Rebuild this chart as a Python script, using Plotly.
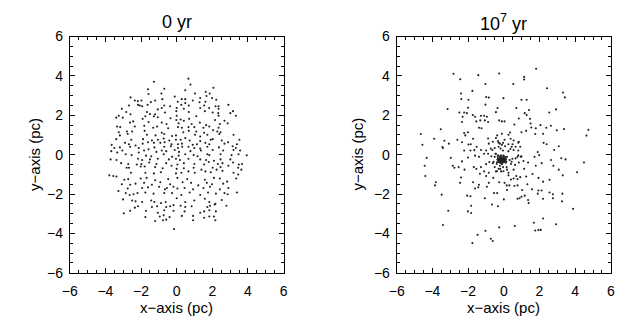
import plotly.graph_objects as go

# Star positions at t = 0 yr (pc)
pts_0yr = [
    (0.66, 3.86), (-1.28, 3.70), (0.77, 3.56), (-0.70, 3.35), (-1.61, 3.32), (2.06, 3.40),
    (0.48, 3.27), (1.63, 3.19), (-1.58, 3.08), (-0.86, 3.11), (1.03, 3.11), (1.85, 3.11),
    (-2.59, 2.91), (-0.11, 2.95), (1.32, 2.88), (1.67, 2.98), (1.98, 2.88), (-2.35, 2.75),
    (-2.18, 2.72), (-1.98, 2.75), (-0.81, 2.82), (-1.21, 2.75), (0.28, 2.82), (0.48, 2.82),
    (0.90, 2.75), (2.22, 2.79), (-1.45, 2.67), (0.06, 2.69), (0.48, 2.62), (1.28, 2.66),
    (1.61, 2.69), (-2.68, 2.50), (-2.17, 2.53), (-2.07, 2.50), (-1.94, 2.46), (-1.63, 2.53),
    (-0.70, 2.50), (-0.37, 2.46), (0.26, 2.53), (0.68, 2.50), (1.54, 2.50), (2.18, 2.46),
    (2.35, 2.46), (2.90, 2.53), (-3.08, 2.33), (-1.06, 2.30), (-0.84, 2.37), (0.00, 2.37),
    (0.40, 2.33), (1.32, 2.37), (1.82, 2.37), (2.35, 2.33), (-2.83, 2.17), (-1.67, 2.17),
    (-1.50, 2.06), (-1.21, 2.05), (-0.66, 2.14), (-0.02, 2.21), (0.68, 2.17), (1.58, 2.21),
    (2.02, 2.14), (2.33, 2.11), (3.01, 2.11), (3.16, 2.21), (-3.25, 1.98), (-2.59, 2.05),
    (-1.76, 1.95), (-1.28, 1.95), (0.00, 1.98), (1.10, 1.95), (2.35, 1.98), (3.32, 1.98),
    (-3.39, 1.88), (-3.03, 1.88), (-1.91, 1.82), (-1.06, 1.90), (-0.35, 1.85), (-0.02, 1.76),
    (0.22, 1.79), (0.40, 1.72), (0.70, 1.82), (2.15, 1.76), (2.68, 1.72), (-2.62, 1.63),
    (-2.44, 1.69), (-1.58, 1.66), (-0.84, 1.63), (-0.57, 1.56), (0.11, 1.59), (0.84, 1.56),
    (1.30, 1.63), (1.65, 1.50), (2.42, 1.56), (2.86, 1.59), (-3.34, 1.43), (-3.17, 1.40),
    (-2.35, 1.43), (-1.82, 1.47), (-1.32, 1.37), (-1.10, 1.43), (-0.48, 1.34), (0.07, 1.40),
    (0.29, 1.37), (0.66, 1.40), (0.99, 1.40), (1.50, 1.37), (1.83, 1.43), (2.35, 1.37),
    (-3.25, 1.14), (-2.79, 1.18), (-2.50, 1.18), (-1.80, 1.21), (-0.84, 1.11), (0.37, 1.14),
    (0.68, 1.21), (1.10, 1.18), (1.54, 1.11), (2.04, 1.24), (2.28, 1.18), (2.46, 1.14),
    (-3.19, 0.98), (-2.75, 1.05), (-1.67, 1.01), (-1.19, 0.98), (-0.70, 1.05), (-0.26, 0.95),
    (-0.04, 0.98), (1.03, 1.01), (1.32, 0.92), (1.72, 1.01), (2.39, 1.05), (3.19, 1.01),
    (-3.39, 0.79), (-2.55, 0.76), (-1.89, 0.79), (-1.39, 0.72), (-1.06, 0.76), (-0.73, 0.82),
    (-0.42, 0.72), (-0.04, 0.76), (0.22, 0.76), (0.48, 0.85), (0.73, 0.72), (1.32, 0.69),
    (1.91, 0.76), (2.02, 0.79), (2.53, 0.72), (3.52, 0.76), (-3.65, 0.50), (-2.90, 0.60),
    (-2.68, 0.53), (-2.31, 0.47), (-1.91, 0.56), (-1.61, 0.63), (-1.28, 0.60), (-0.92, 0.60),
    (-0.68, 0.63), (-0.29, 0.53), (0.07, 0.53), (0.29, 0.56), (0.90, 0.50), (1.14, 0.53),
    (1.61, 0.60), (1.83, 0.53), (2.68, 0.56), (2.88, 0.63), (3.38, 0.53), (-3.50, 0.34),
    (-3.19, 0.37), (-2.61, 0.40), (-2.13, 0.34), (-1.58, 0.27), (-1.25, 0.37), (-0.70, 0.40),
    (-0.33, 0.43), (0.07, 0.34), (0.31, 0.40), (0.66, 0.40), (0.99, 0.34), (1.32, 0.31),
    (1.72, 0.40), (2.37, 0.37), (3.14, 0.43), (3.32, 0.34), (-3.67, 0.18), (-3.34, 0.11),
    (-3.05, 0.21), (-2.13, 0.11), (-1.83, 0.21), (-1.14, 0.14), (-0.84, 0.21), (-0.59, 0.18),
    (-0.11, 0.24), (0.13, 0.14), (0.77, 0.18), (1.36, 0.21), (2.02, 0.24), (2.61, 0.21),
    (3.19, 0.24), (3.56, 0.21), (-2.86, 0.02), (-2.53, -0.02), (-1.72, -0.05), (-1.43, -0.08),
    (-0.73, 0.02), (-0.26, -0.11), (0.11, -0.05), (0.48, 0.02), (0.95, -0.02), (1.17, -0.08),
    (1.72, 0.02), (1.83, -0.02), (2.46, 0.02), (3.08, -0.02), (3.47, 0.02), (-3.71, -0.24),
    (-3.38, -0.27), (-2.17, -0.21), (-1.94, -0.27), (-1.50, -0.24), (-1.06, -0.21), (-0.44, -0.24),
    (-0.04, -0.21), (0.18, -0.27), (0.66, -0.21), (1.32, -0.24), (1.65, -0.27), (2.09, -0.31),
    (2.46, -0.24), (3.01, -0.24), (3.93, -0.03), (-3.12, -0.43), (-2.72, -0.47), (-2.24, -0.50),
    (-1.98, -0.47), (-1.54, -0.40), (-1.14, -0.47), (-0.59, -0.43), (0.04, -0.50), (0.40, -0.43),
    (0.99, -0.47), (1.54, -0.50), (1.80, -0.37), (2.31, -0.47), (2.57, -0.43), (3.16, -0.40),
    (3.49, -0.50), (3.67, -0.47), (-2.81, -0.66), (-2.68, -0.66), (-2.02, -0.60), (-1.80, -0.60),
    (-1.21, -0.63), (-0.79, -0.69), (-0.29, -0.56), (0.00, -0.72), (0.40, -0.69), (0.95, -0.66),
    (1.39, -0.76), (2.02, -0.66), (2.24, -0.76), (2.46, -0.63), (2.90, -0.56), (3.45, -0.66),
    (3.63, -0.76), (-3.78, -1.05), (-3.56, -1.08), (-3.38, -1.11), (-2.57, -0.92), (-1.76, -0.92),
    (-1.28, -0.95), (-0.88, -0.89), (-0.04, -0.95), (0.26, -0.92), (0.66, -0.85), (1.01, -0.92),
    (1.61, -0.85), (1.91, -0.89), (2.57, -0.82), (3.19, -0.92), (3.45, -1.01), (-2.94, -1.27),
    (-2.72, -1.24), (-2.02, -1.21), (-1.69, -1.18), (-1.21, -1.30), (-0.48, -1.24), (0.04, -1.18),
    (0.59, -1.24), (1.58, -1.27), (2.09, -1.18), (2.42, -1.21), (3.34, -1.21), (-3.08, -1.50),
    (-2.61, -1.53), (-2.31, -1.47), (-1.83, -1.43), (-1.39, -1.53), (-0.92, -1.40), (-0.37, -1.50),
    (0.33, -1.40), (0.81, -1.43), (1.21, -1.56), (1.69, -1.43), (1.98, -1.50), (2.61, -1.47),
    (2.83, -1.37), (-3.27, -1.85), (-2.75, -1.72), (-1.94, -1.69), (-1.61, -1.66), (-0.99, -1.63),
    (-0.66, -1.76), (-0.55, -1.69), (-0.18, -1.63), (0.04, -1.72), (0.44, -1.69), (0.92, -1.76),
    (1.50, -1.69), (1.87, -1.63), (2.42, -1.76), (2.90, -1.69), (-2.86, -1.95), (-2.64, -2.05),
    (-2.42, -2.01), (-2.20, -1.95), (-1.76, -1.92), (-1.30, -1.98), (-0.70, -1.95), (-0.26, -1.95),
    (0.26, -2.05), (0.73, -1.92), (1.32, -2.05), (1.76, -1.92), (2.20, -1.98), (2.68, -1.95),
    (2.86, -2.01), (3.38, -1.92), (-3.01, -2.27), (-2.50, -2.33), (-2.31, -2.37), (-1.94, -2.40),
    (-1.43, -2.33), (-1.25, -2.40), (-0.88, -2.46), (-0.62, -2.40), (0.00, -2.21), (0.48, -2.40),
    (0.99, -2.33), (1.58, -2.24), (1.83, -2.40), (2.17, -2.50), (2.53, -2.30), (-2.35, -2.69),
    (-2.17, -2.62), (-1.39, -2.66), (-1.10, -2.62), (-0.59, -2.66), (-0.37, -2.62), (-0.18, -2.56),
    (0.22, -2.59), (0.48, -2.66), (0.84, -2.62), (1.72, -2.66), (1.87, -2.59), (2.13, -2.53),
    (2.79, -2.59), (-2.97, -2.98), (-2.61, -2.85), (-1.72, -2.85), (-1.06, -2.95), (-0.70, -2.82),
    (-0.18, -2.85), (0.44, -2.88), (1.32, -2.95), (1.54, -2.88), (1.83, -2.82), (2.20, -2.88),
    (-1.76, -3.17), (-0.95, -3.14), (-0.73, -3.08), (-0.40, -3.17), (0.29, -3.11), (0.92, -3.11),
    (1.54, -3.20), (1.83, -3.14), (2.09, -3.14), (-1.21, -3.37), (-0.77, -3.33), (-0.59, -3.30),
    (0.92, -3.33), (2.17, -3.33), (-0.15, -3.78),
]

# Star positions at t = 10^7 yr (pc)
pts_1e7yr = [
    (1.81, 4.36), (-2.82, 4.11), (-0.26, 4.12), (-1.43, 4.04), (1.14, 3.95), (1.14, 3.82),
    (-2.44, 3.83), (-1.03, 3.59), (0.53, 3.59), (-1.76, 3.24), (2.42, 3.37), (-2.40, 3.11),
    (3.32, 3.16), (-2.38, 2.83), (-1.98, 2.79), (-0.99, 2.93), (-0.84, 2.90), (-0.02, 2.87),
    (0.99, 2.79), (1.28, 2.79), (3.42, 2.91), (-1.03, 2.54), (-3.15, 2.32), (-2.00, 2.38),
    (-0.35, 2.37), (0.70, 2.37), (1.41, 2.27), (-2.49, 2.14), (-2.22, 2.14), (-2.31, 1.93),
    (-2.07, 2.11), (-1.74, 2.01), (-1.61, 1.93), (-1.28, 1.98), (-1.10, 1.98), (-0.95, 1.93),
    (-0.44, 2.16), (1.17, 2.11), (1.28, 2.01), (2.93, 2.30), (2.55, 2.14), (-0.26, 1.74),
    (-0.11, 1.69), (0.04, 1.69), (0.84, 1.84), (1.47, 1.82), (1.50, 1.58), (0.59, 1.53),
    (-3.53, 1.29), (-2.34, 1.66), (-1.54, 1.69), (-1.32, 1.74), (-1.06, 1.74), (-0.88, 1.66),
    (2.05, 1.50), (2.38, 1.37), (2.64, 1.47), (2.97, 1.24), (3.37, 1.30), (1.54, 1.38),
    (1.79, 1.34), (-2.22, 1.10), (-2.01, 1.14), (-1.39, 1.37), (-1.25, 1.34), (-4.65, 1.05),
    (-3.90, 0.81), (-3.33, 0.71), (-2.60, 0.76), (-2.16, 0.98), (-1.72, 0.81), (-0.88, 0.82),
    (-0.44, 0.85), (-0.11, 1.06), (0.26, 1.01), (0.35, 1.13), (0.38, 0.81), (0.99, 1.14),
    (1.25, 1.21), (1.76, 1.05), (2.20, 1.06), (-0.37, 0.98), (0.04, 0.76), (0.55, 0.72),
    (0.81, 0.61), (-4.56, 0.50), (-3.44, 0.39), (-3.08, 0.56), (-2.34, 0.63), (-1.98, 0.52),
    (-1.85, 0.53), (-1.52, 0.40), (-0.84, 0.56), (-0.62, 0.66), (-0.33, 0.69), (-0.22, 0.56),
    (-0.04, 0.60), (0.07, 0.43), (0.49, 0.53), (0.66, 0.40), (0.84, 0.66), (0.92, 0.40),
    (2.23, 0.60), (2.40, 0.53), (3.08, 0.43), (-3.41, 0.34), (-2.22, 0.21), (-1.87, 0.21),
    (-1.65, 0.23), (-1.28, 0.24), (-0.99, 0.21), (-0.73, 0.31), (-0.51, 0.34), (-0.29, 0.40),
    (-0.18, 0.31), (-0.05, 0.21), (0.26, 0.18), (0.37, 0.29), (0.55, 0.24), (0.81, 0.21),
    (1.90, 0.13), (2.82, 0.24), (1.98, -0.02), (1.72, -0.11), (-4.32, -0.16), (-2.97, -0.16),
    (-2.01, -0.14), (-1.61, -0.05), (-1.39, -0.11), (-1.10, 0.05), (-0.88, 0.05), (-0.70, -0.08),
    (-0.51, -0.11), (-0.44, 0.05), (-0.33, -0.03), (0.18, -0.11), (0.33, -0.27), (0.48, -0.21),
    (0.66, -0.19), (0.77, -0.11), (0.95, -0.11), (3.22, -0.18), (3.46, -0.24), (2.64, -0.27),
    (-4.43, -0.56), (-2.86, -0.56), (-2.53, -0.63), (-2.34, -0.34), (-1.68, -0.63), (-1.28, -0.63),
    (-0.99, -0.48), (-0.81, -0.37), (-0.62, -0.43), (-0.51, -0.63), (-0.40, -0.47), (-0.22, -0.56),
    (-0.04, -0.63), (0.11, -0.40), (0.40, -0.47), (0.84, -0.40), (1.10, -0.32), (1.36, -0.40),
    (1.79, -0.56), (2.12, -0.43), (2.78, -0.56), (3.08, -0.76), (-4.40, -1.08), (-2.77, -0.66),
    (-2.20, -0.76), (-1.54, -0.72), (-1.10, -0.85), (-0.84, -0.92), (-0.44, -0.85), (-0.29, -0.72),
    (-0.15, -0.85), (0.18, -0.76), (0.55, -0.76), (1.14, -0.72), (1.61, -0.98), (-2.40, -1.16),
    (-1.34, -0.97), (-0.99, -1.08), (-0.59, -1.18), (0.26, -1.05), (0.55, -1.21), (0.70, -1.08),
    (0.92, -1.14), (1.25, -1.11), (1.94, -1.18), (3.30, -1.05), (0.77, -1.24), (0.40, -1.26),
    (-3.81, -1.40), (-3.85, -1.56), (-2.45, -1.43), (-1.72, -1.40), (-1.39, -1.53), (-0.84, -1.43),
    (-0.26, -1.40), (0.04, -1.43), (0.16, -1.56), (0.31, -1.56), (0.59, -1.59), (0.77, -1.56),
    (1.32, -1.50), (2.20, -1.37), (2.56, -1.27), (-1.61, -1.72), (-1.43, -1.66), (-0.95, -1.63),
    (0.18, -1.79), (1.03, -1.79), (1.58, -1.76), (1.94, -1.82), (1.90, -1.98), (2.12, -1.82),
    (2.56, -1.92), (2.75, -2.01), (3.28, -1.98), (-3.48, -2.03), (-2.05, -2.08), (-1.87, -2.11),
    (-1.06, -2.21), (-0.55, -1.95), (-0.37, -1.95), (0.00, -2.27), (0.77, -2.24), (0.88, -2.21),
    (0.99, -2.14), (1.17, -2.08), (1.36, -2.30), (2.20, -2.24), (2.75, -2.21), (3.26, -2.37),
    (-1.83, -2.59), (-0.66, -2.53), (1.39, -2.46), (-0.33, -2.62), (-3.11, -2.85), (-2.01, -2.88),
    (-1.83, -2.96), (2.20, -3.24), (-3.41, -3.57), (-1.47, -4.07), (-1.03, -3.86), (-0.73, -4.27),
    (-0.62, -4.38), (-0.26, -3.69), (0.62, -3.62), (1.68, -3.46), (1.94, -3.82), (2.07, -3.82),
    (1.76, -3.85), (2.93, -3.53), (-1.76, -4.49), (4.74, 1.26), (4.63, 0.97), (4.49, -0.40),
    (4.10, -0.89), (3.88, -2.75),
    (-0.29, 0.61), (-0.11, 0.50), (0.26, 0.53), (0.44, 0.40), (-0.64, 0.24), (-0.47, 0.05),
    (0.81, -0.03), (0.99, -0.08), (-0.57, -0.36), (0.44, -0.36), (0.63, -0.52), (0.16, -0.63),
    (-0.20, -0.72), (-0.38, -0.84), (-0.02, -0.84), (0.26, -0.92),
]

# Dense central cluster at t = 10^7 yr (estimated from the solid blob)
core_1e7yr = [
    (-0.11, -0.24), (-0.16, -0.20), (-0.06, -0.26), (-0.19, -0.28), (-0.02, -0.18), (-0.24, -0.22),
    (-0.09, -0.32), (0.02, -0.25), (-0.14, -0.14), (-0.29, -0.30), (-0.22, -0.12), (0.06, -0.30),
    (-0.32, -0.18), (0.00, -0.10), (-0.16, -0.38), (0.08, -0.18), (-0.26, -0.40), (-0.04, -0.40),
    (-0.36, -0.25), (0.12, -0.24), (-0.12, -0.05), (-0.20, -0.34), (0.04, -0.36), (-0.08, -0.16),
    (-0.14, -0.28), (-0.18, -0.22), (-0.04, -0.22), (-0.10, -0.20), (-0.13, -0.26), (-0.07, -0.30),
    (0.01, -0.30), (-0.24, -0.30), (-0.28, -0.24), (0.05, -0.21), (-0.15, -0.44), (-0.10, -0.48),
    (0.10, -0.12), (-0.34, -0.10), (0.14, -0.35), (-0.37, -0.38), (-0.19, -0.05), (-0.01, -0.05),
    (-0.05, -0.34), (-0.21, -0.17), (0.07, -0.26), (-0.30, -0.34), (-0.02, -0.14), (0.10, -0.40),
]

titles = ["0 yr", "10<sup>7</sup> yr"]
tick_vals = [-6, -4, -2, 0, 2, 4, 6]
tick_text = ["−6", "−4", "−2", "0", "2", "4", "6"]
axis_range = [-6, 6]

W, H = 626, 326
FONT = "Liberation Sans"

x0 = [p[0] for p in pts_0yr]
y0 = [p[1] for p in pts_0yr]
x1 = [p[0] for p in pts_1e7yr + core_1e7yr]
y1 = [p[1] for p in pts_1e7yr + core_1e7yr]

fig = go.Figure()
mk = dict(size=2.1, color="#222", line=dict(width=0))
fig.add_trace(go.Scatter(x=x0, y=y0, mode="markers", marker=mk, xaxis="x", yaxis="y", showlegend=False))
fig.add_trace(go.Scatter(x=x1, y=y1, mode="markers", marker=mk, xaxis="x2", yaxis="y2", showlegend=False))

def ax(domain, anchor, standoff):
    return dict(
        domain=domain, anchor=anchor, range=axis_range, tickvals=tick_vals, ticktext=tick_text,
        ticks="inside", ticklen=5, tickwidth=1, tickcolor="black",
        minor=dict(ticks="inside", ticklen=3, dtick=0.5, tick0=0, tickcolor="black", tickwidth=1),
        showline=True, linecolor="black", linewidth=1, mirror="ticks",
        showgrid=False, zeroline=False, ticklabelstandoff=standoff,
        tickfont=dict(family=FONT, size=14, color="black"),
    )

ydom = [47.5 / H, 296 / H]
fig.update_layout(
    width=W, height=H, margin=dict(l=0, r=0, t=0, b=0),
    paper_bgcolor="white", plot_bgcolor="white",
    xaxis=ax([63 / W, 281 / W], "y", 5),
    yaxis=ax(ydom, "x", 3),
    xaxis2=ax([396.3 / W, 614.7 / W], "y2", 5),
    yaxis2=ax(ydom, "x2", 3),
)

ann = []
for cx, yx, t in [(172, 27, titles[0]), (505.5, 356, titles[1])]:
    ann.append(dict(text=t, x=cx / W, y=1 - 15 / H, xref="paper", yref="paper", showarrow=False,
                    xanchor="center", yanchor="middle", font=dict(family=FONT, size=18, color="black")))
    ann.append(dict(text="x−axis (pc)", x=cx / W, y=1 - 315 / H, xref="paper", yref="paper", showarrow=False,
                    xanchor="center", yanchor="middle", font=dict(family=FONT, size=15, color="black")))
    ann.append(dict(text="y−axis (pc)", x=yx / W, y=1 - 154 / H, xref="paper", yref="paper", showarrow=False,
                    textangle=-90, xanchor="center", yanchor="middle", font=dict(family=FONT, size=15, color="black")))
fig.update_layout(annotations=ann)

fig.write_html("out.html")
